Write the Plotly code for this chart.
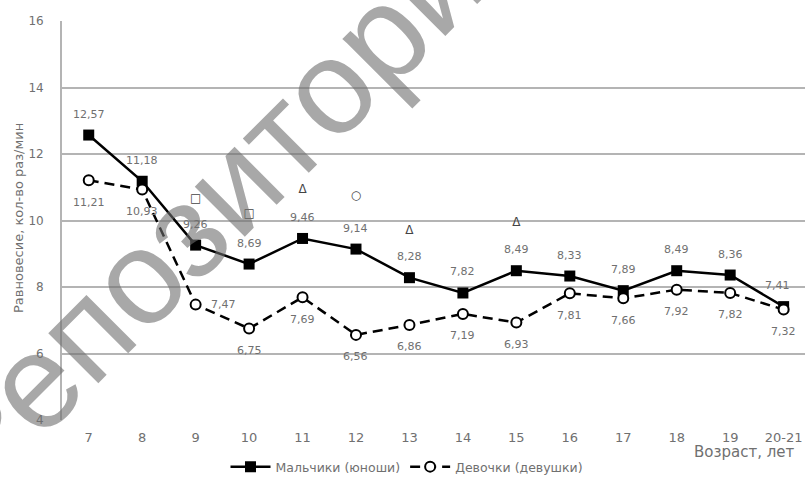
import plotly.graph_objects as go

# ---- data ----
ages = ["7", "8", "9", "10", "11", "12", "13", "14", "15", "16", "17", "18", "19", "20-21"]
boys = [12.57, 11.18, 9.26, 8.69, 9.46, 9.14, 8.28, 7.82, 8.49, 8.33, 7.89, 8.49, 8.36, 7.41]
girls = [11.21, 10.93, 7.47, 6.75, 7.69, 6.56, 6.86, 7.19, 6.93, 7.81, 7.66, 7.92, 7.82, 7.32]
sig_x = ["9", "10", "11", "12", "13", "15"]
sig_y = [10.66, 10.21, 10.93, 10.75, 9.67, 9.94]
sig_sym = ["□", "□", "Δ", "○", "Δ", "Δ"]
y_ticks = [4, 6, 8, 10, 12, 14, 16]
boys_name = "Мальчики (юноши)"
girls_name = "Девочки (девушки)"
y_title = "Равновесие, кол-во раз/мин"
x_title = "Возраст, лет"
watermark = "Репозиторий"

def fmt(v):
    return f"{v:.2f}".replace(".", ",")

FONT = "DejaVu Sans"
GRAY = "#707070"

W, H = 805, 477
L, R, T, B = 62, 0, 21, 57
pw, ph = W - L - R, H - T - B

def px(x):
    return (x - L) / pw

def py(y):
    return (H - B - y) / ph

fig = go.Figure()

fig.add_trace(go.Scatter(
    x=ages, y=boys, mode="lines+markers", name=boys_name,
    line=dict(color="black", width=2.5),
    marker=dict(symbol="square", size=11, color="black"),
))
fig.add_trace(go.Scatter(
    x=ages, y=girls, mode="lines+markers", name=girls_name,
    line=dict(color="black", width=2.5, dash="10px,6px"),
    marker=dict(symbol="circle", size=10, color="white", line=dict(color="black", width=2)),
))
fig.add_trace(go.Scatter(
    x=sig_x, y=sig_y, mode="text", text=sig_sym, showlegend=False,
    textfont=dict(family=FONT, size=12, color="#444"),
))

ann = []
for i, (a, v) in enumerate(zip(ages, boys)):
    ann.append(dict(x=i, y=v, xref="x", yref="y", text=fmt(v), showarrow=False,
                    xanchor="center", yanchor="middle",
                    yshift=21, xshift=(-6 if a == "20-21" else 0),
                    font=dict(family=FONT, size=11, color=GRAY)))
for i, (a, v) in enumerate(zip(ages, girls)):
    if a == "9":
        xs, ys = 28, 0
    else:
        xs, ys = 0, -22
    ann.append(dict(x=i, y=v, xref="x", yref="y", text=fmt(v), showarrow=False,
                    xanchor="center", yanchor="middle",
                    yshift=ys, xshift=xs,
                    font=dict(family=FONT, size=11, color=GRAY)))

ann.append(dict(x=px(18), y=py(218), xref="paper", yref="paper", text=y_title,
                textangle=-90, showarrow=False, xanchor="center", yanchor="middle",
                font=dict(family=FONT, size=13, color=GRAY)))
ann.append(dict(x=px(744), y=py(452), xref="paper", yref="paper", text=x_title,
                showarrow=False, xanchor="center", yanchor="middle",
                font=dict(family=FONT, size=15, color=GRAY)))
ann.append(dict(x=px(229), y=py(186), xref="paper", yref="paper", text=watermark,
                textangle=-45, showarrow=False, xanchor="center", yanchor="middle",
                font=dict(family="Liberation Sans", size=134, color="rgba(110,110,110,0.6)")))

fig.update_layout(
    width=W, height=H,
    margin=dict(l=L, r=R, t=T, b=B, pad=0, autoexpand=False),
    paper_bgcolor="white", plot_bgcolor="white",
    font=dict(family=FONT, color=GRAY),
    showlegend=True,
    legend=dict(orientation="h", x=px(407), y=py(467), xanchor="center", yanchor="middle",
                font=dict(family=FONT, size=12.5, color=GRAY), bgcolor="rgba(0,0,0,0)",
                itemwidth=40, tracegroupgap=0),
    xaxis=dict(type="category", range=[-0.5, 13.4], showgrid=False, zeroline=False,
               showline=False, ticks="", tickfont=dict(family=FONT, size=13, color=GRAY),
               ticklabelstandoff=8, automargin=False),
    yaxis=dict(range=[4, 16], tickvals=y_ticks, showgrid=True, gridcolor="#b4b4b4",
               gridwidth=1.8, zeroline=False, showline=True, linecolor="#b4b4b4", linewidth=1.8,
               ticks="", tickfont=dict(family=FONT, size=12, color=GRAY),
               ticklabelstandoff=14, automargin=False),
    annotations=ann,
)

fig.write_html("out.html", config={"displayModeBar": False},
               post_script="document.body.style.margin='0';document.body.style.padding='0';")
